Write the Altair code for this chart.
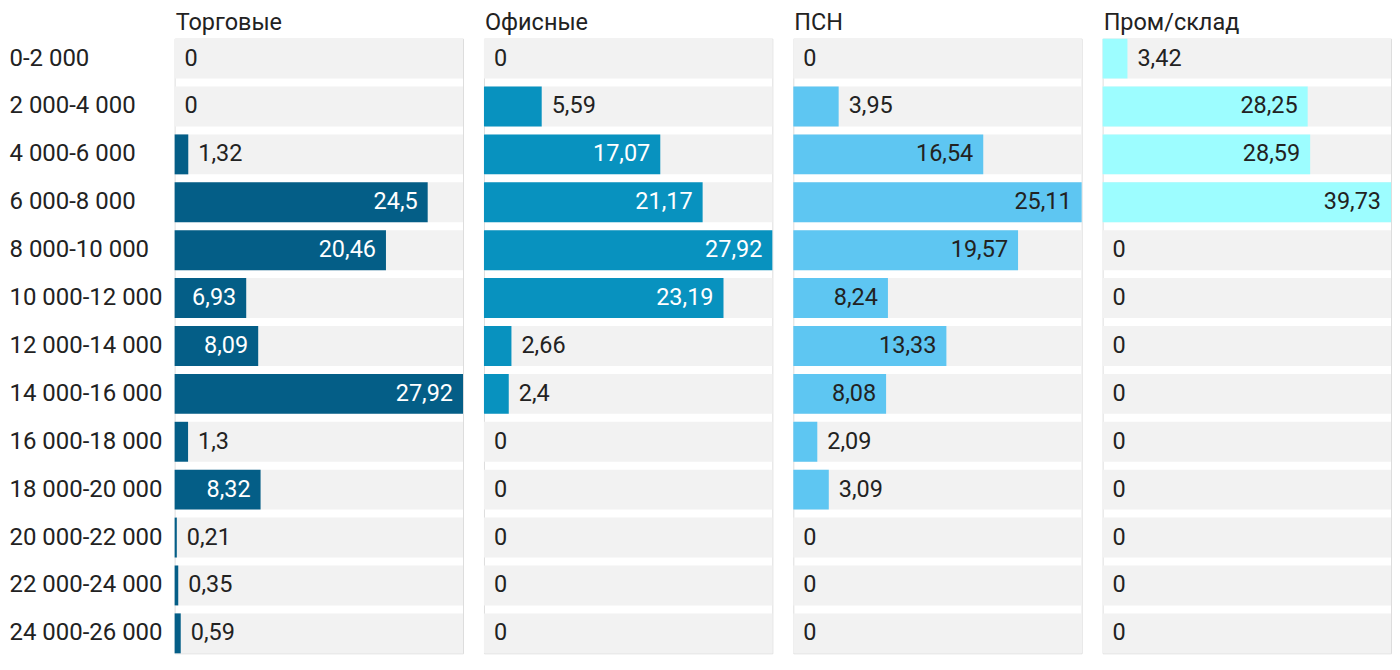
import altair as alt
import pandas as pd

ranges = ["0-2 000", "2 000-4 000", "4 000-6 000", "6 000-8 000", "8 000-10 000",
          "10 000-12 000", "12 000-14 000", "14 000-16 000", "16 000-18 000",
          "18 000-20 000", "20 000-22 000", "22 000-24 000", "24 000-26 000"]

headers = ["Торговые", "Офисные", "ПСН", "Пром/склад"]
torg = [0, 0, 1.32, 24.5, 20.46, 6.93, 8.09, 27.92, 1.3, 8.32, 0.21, 0.35, 0.59]
ofis = [0, 5.59, 17.07, 21.17, 27.92, 23.19, 2.66, 2.4, 0, 0, 0, 0, 0]
psn = [0, 3.95, 16.54, 25.11, 19.57, 8.24, 13.33, 8.08, 2.09, 3.09, 0, 0, 0]
prom = [3.42, 28.25, 28.59, 39.73, 0, 0, 0, 0, 0, 0, 0, 0, 0]

series = [torg, ofis, psn, prom]
colors = ["#045e87", "#0892bf", "#5ec6f2", "#9dfdff"]
inner_text = ["#ffffff", "#ffffff", "#222222", "#222222"]

FONT = "Roboto"
FS = 23.5
W = 289
H = 616


def panel(i):
    df = pd.DataFrame({"range": ranges, "value": series[i]})
    base = alt.Chart(df).transform_joinaggregate(
        mx="max(value)"
    ).transform_calculate(
        inside="datum.value / datum.mx > 0.22",
        lbl="replace(toString(datum.value), '.', ',')",
    )
    if i == 0:
        yaxis = alt.Axis(title=None, domain=False, ticks=False, labelAlign="left",
                         labelPadding=166, labelFontSize=24, labelFont=FONT,
                         labelColor="#222222", labelLimit=200)
    else:
        yaxis = None
    y = alt.Y("range:N", sort=ranges,
              scale=alt.Scale(paddingInner=1 / 6, paddingOuter=0), axis=yaxis)
    xs = alt.Scale(nice=False, zero=True)
    bg = base.mark_bar(color="#f2f2f2").encode(
        y=y, x=alt.X("mx:Q", scale=xs, axis=None))
    bar = base.mark_bar(color=colors[i]).encode(
        y=y, x=alt.X("value:Q", scale=xs, axis=None))
    t_in = base.transform_filter("datum.inside").mark_text(
        align="right", dx=-10, fontSize=FS, font=FONT, color=inner_text[i],
        baseline="middle"
    ).encode(y=y, x=alt.X("value:Q", scale=xs, axis=None), text="lbl:N")
    t_out = base.transform_filter("!datum.inside").mark_text(
        align="left", dx=10, fontSize=FS, font=FONT, color="#222222",
        baseline="middle"
    ).encode(y=y, x=alt.X("value:Q", scale=xs, axis=None), text="lbl:N")
    return alt.layer(bg, bar, t_in, t_out).properties(
        width=W, height=H,
        title=alt.TitleParams(headers[i], anchor="start", frame="group",
                              fontSize=FS, font=FONT, dx=1,
                              fontWeight="normal", color="#222222", offset=4),
    )


chart = alt.hconcat(*[panel(i) for i in range(4)], spacing=19).configure_view(
    stroke=None
).configure(padding={"top": 2, "left": 0, "right": 0, "bottom": 0},
            background="white")

chart.save("out.html", embed_options={"renderer": "svg", "actions": False})
